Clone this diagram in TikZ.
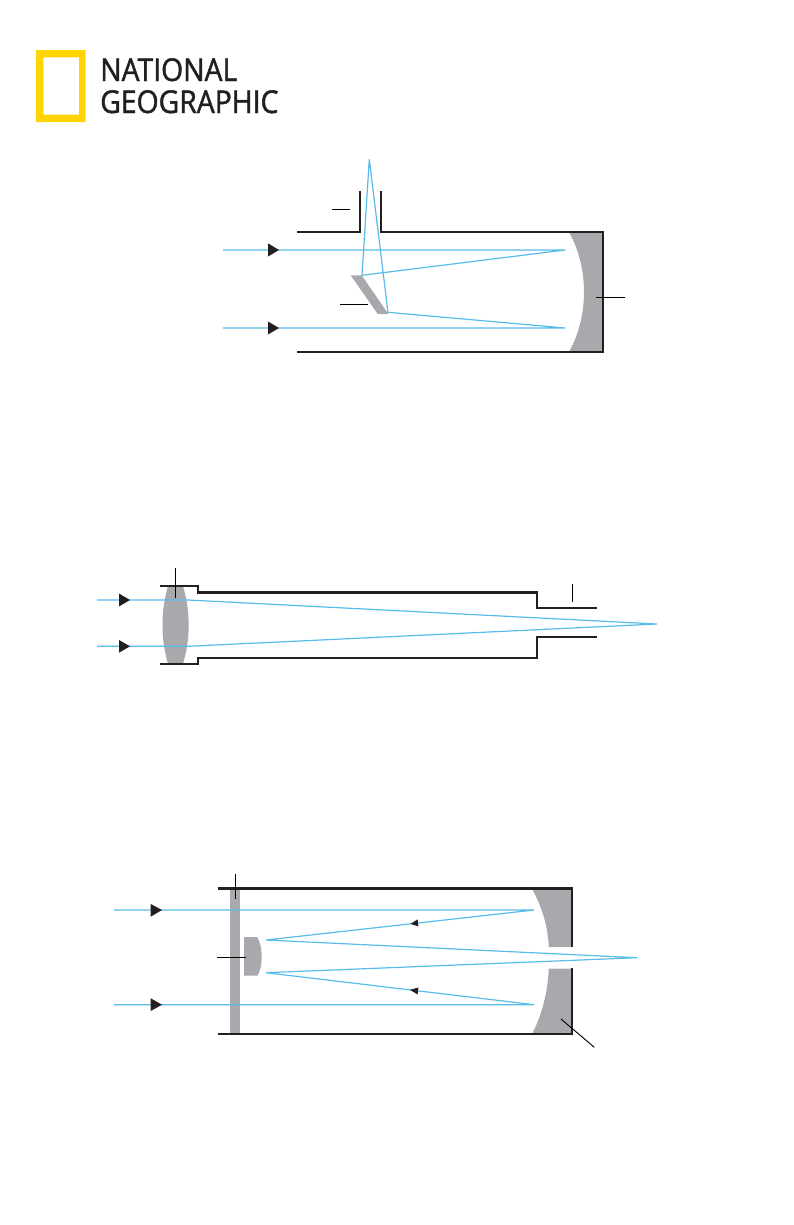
\documentclass[tikz,border=0pt]{standalone}
\usepackage{fontspec}
\newfontfamily\logofont[FakeStretch=0.9,FakeBold=1.4]{Open Sans}
\definecolor{raycol}{HTML}{58BCEB}
\definecolor{glasscol}{HTML}{A7A9AC}
\definecolor{inkcol}{HTML}{231F20}
\definecolor{logocol}{HTML}{FFD400}
\tikzset{
  tube/.style={draw=inkcol,line width=1.8pt,line join=miter},
  ray/.style={draw=raycol,line width=0.9pt},
  leader/.style={draw=black,line width=0.7pt},
  glass/.style={fill=glasscol,draw=none},
  flow/.style={fill=inkcol,draw=none},
  logotext/.style={inner sep=0pt,anchor=base west,text=inkcol,font=\logofont\fontsize{23.6}{24}\selectfont},
}
\begin{document}
\begin{tikzpicture}[x=0.75pt,y=-0.75pt]
\useasboundingbox (0,0) rectangle (793,1225);
%% logo
  \fill [logocol,even odd rule] (36,50) rectangle (85.7,122) (43.3,57.3) rectangle (79,114.7);
  \node [logotext] (logo_top) at (100,81) {NATIONAL};
  \node [logotext] (logo_bot) at (100,113) {GEOGRAPHIC};
%% newtonian
  \fill [glass] (569,232) .. controls (579,250) and (584,271) .. (584,292) .. controls (584,313) and (579,334) .. (569,352) -- (603,352) -- (603,232) -- cycle;
  \fill [glass] (350.7,275.3) -- (361.7,275.3) -- (388.3,314) -- (377.7,314) -- cycle;
  \draw [tube] (297,232) -- (360,232) -- (360,191);
  \draw [tube] (381,191) -- (381,232) -- (603,232) -- (603,352) -- (297,352);
  \coordinate (nw_apex) at (369.3,159.3);
  \coordinate (nw_a) at (565,250);
  \coordinate (nw_b) at (565,328);
  \coordinate (nw_c) at (362,275.3);
  \coordinate (nw_d) at (388,312.3);
  \draw [ray] (223,250) -- (nw_a) -- (nw_c) -- (nw_apex) -- (nw_d) -- (nw_b) -- (223,328);
  \fill [flow] (268,243.3) -- (279,250) -- (268,256.5) -- cycle;
  \fill [flow] (268,321.5) -- (279,328) -- (268,334.5) -- cycle;
  \draw [leader] (332,209) -- (350,209);
  \draw [leader] (340,304.3) -- (368,304.3);
  \draw [leader] (596,297.3) -- (625,297.3);
%% refractor
  \fill [glass] (168,586) .. controls (164,600) and (162.5,612) .. (162.5,625) .. controls (162.5,638) and (164,650) .. (168,664) -- (183,664) .. controls (187,650) and (188.7,638) .. (188.7,625) .. controls (188.7,612) and (187,600) .. (183,586) -- cycle;
  \draw [tube] (160,586) -- (198,586) -- (198,592.3) -- (537,592.3) -- (537,608) -- (597,608);
  \draw [tube] (160,664) -- (198,664) -- (198,658) -- (537,658) -- (537,636.7) -- (597,636.7);
  \coordinate (rf_apex) at (657,624);
  \draw [ray] (97,600) -- (188,600) -- (rf_apex) -- (188,646.3) -- (97,646.3);
  \fill [flow] (119,593.5) -- (130,600) -- (119,606.5) -- cycle;
  \fill [flow] (119,640) -- (130,646.3) -- (119,652.7) -- cycle;
  \draw [leader] (175.5,568) -- (175.5,597.7);
  \draw [leader] (572.3,584) -- (572.3,601.7);
%% catadioptric
  \fill [glass] (230,888) rectangle (240,1034);
  \fill [glass] (244,937) -- (257.3,937) .. controls (260.5,943) and (261.7,950) .. (261.7,957) .. controls (261.7,964) and (260.5,970) .. (257.7,975.7) -- (244,975.7) -- cycle;
  \fill [glass] (531.7,888) .. controls (541,905) and (548,925) .. (548.7,947) -- (572,947) -- (572,888) -- cycle;
  \fill [glass] (532,1034) .. controls (541,1017) and (548,993) .. (548.7,968.5) -- (572,968.5) -- (572,1034) -- cycle;
  \draw [tube] (218,888.3) -- (572,888.3) -- (572,947);
  \draw [tube] (572,968.3) -- (572,1034) -- (218,1034);
  \coordinate (ct_apex) at (637,957.7);
  \coordinate (ct_a) at (534,910);
  \coordinate (ct_b) at (534,1004.7);
  \coordinate (ct_c) at (266,940);
  \coordinate (ct_d) at (266,972.7);
  \draw [ray] (114,910) -- (ct_a) -- (ct_c) -- (ct_apex) -- (ct_d) -- (ct_b) -- (114,1004.7);
  \fill [flow] (150.7,904) -- (162,910) -- (150.7,916.7) -- cycle;
  \fill [flow] (150.7,998.3) -- (162,1004.7) -- (150.7,1011) -- cycle;
  \fill [flow] (410.5,923.9) -- (417.6,919.4) -- (418.4,926.4) -- cycle;
  \fill [flow] (410,989.9) -- (418.4,987.4) -- (417.6,994.4) -- cycle;
  \draw [leader] (235.3,874.3) -- (235.3,899);
  \draw [leader] (217,957.3) -- (245.7,957.3);
  \draw [leader] (561,1019) -- (594.3,1047.3);
\end{tikzpicture}
\end{document}
